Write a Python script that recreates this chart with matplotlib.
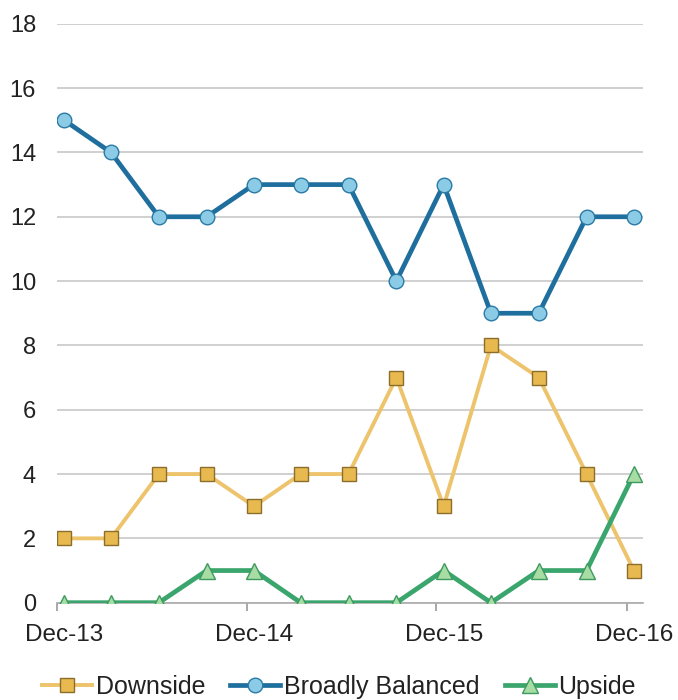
import datetime as dt
import matplotlib
matplotlib.use("Agg")
import matplotlib.pyplot as plt
import matplotlib.dates as mdates

plt.rcParams["font.family"] = ["Liberation Sans", "DejaVu Sans"]

# quarterly survey readings, Dec-13 .. Dec-16
dates = [dt.date(2013 + (11 + 3 * i) // 12, (11 + 3 * i) % 12 + 1, 15) for i in range(13)]
downside = [2, 2, 4, 4, 3, 4, 4, 7, 3, 8, 7, 4, 1]
balanced = [15, 14, 12, 12, 13, 13, 13, 10, 13, 9, 9, 12, 12]
upside = [0, 0, 0, 1, 1, 0, 0, 0, 1, 0, 1, 1, 4]
year_ticks = [dt.date(y, 12, 1) for y in (2013, 2014, 2015, 2016)]
year_labels = ["Dec-13", "Dec-14", "Dec-15", "Dec-16"]
label_dates = [dt.date(y, 12, 15) for y in (2013, 2014, 2015, 2016)]

fig = plt.figure(figsize=(6.78, 7.0), dpi=100)
ax = fig.add_axes([0.084, 0.139, 0.864, 0.827])

ax.plot(dates, downside, color="#edc36c", lw=2.8, marker="s", ms=9.5,
        mfc="#e8b94f", mec="#8c6d2c", mew=1.0, label="Downside", zorder=3)
ax.plot(dates, balanced, color="#1f6f9e", lw=3.4, marker="o", ms=10.5,
        mfc="#8ccbe6", mec="#2a7aa5", mew=1.0, label="Broadly Balanced", zorder=3)
ax.plot(dates, upside, color="#3aa56c", lw=3.4, marker="^", ms=11,
        mfc="#a7dca4", mec="#3c9a5e", mew=1.0, label="Upside", zorder=4)

ax.set_ylim(0, 18)
ax.set_yticks(range(0, 19, 2))
ax.set_xlim(dt.date(2013, 12, 1), dt.date(2017, 1, 1))

# labels sit on the December readings, tick marks on the month start
ax.set_xticks(label_dates)
ax.set_xticklabels(year_labels)
ax.set_xticks(year_ticks, minor=True)
ax.tick_params(axis="x", which="major", length=0, pad=15, labelsize=17.5, colors="#222222")
ax.tick_params(axis="x", which="minor", length=6, width=1.2, color="#999999", direction="out")
ax.tick_params(axis="y", length=0, pad=15, labelsize=17, colors="#222222")

ax.grid(axis="y", color="#c8c8c8", lw=1.2, zorder=0)
for s in ("top", "right", "left"):
    ax.spines[s].set_visible(False)
ax.spines["bottom"].set_color("#aaaaaa")
ax.spines["bottom"].set_linewidth(1.2)

fig.legend(loc="center", bbox_to_anchor=(0.5, 1 - 687 / 700), ncol=3, frameon=False,
           fontsize=18, handlelength=2.0, handletextpad=0.15, columnspacing=1.0,
           labelcolor="#222222")

fig.savefig("out.png", dpi=100)
